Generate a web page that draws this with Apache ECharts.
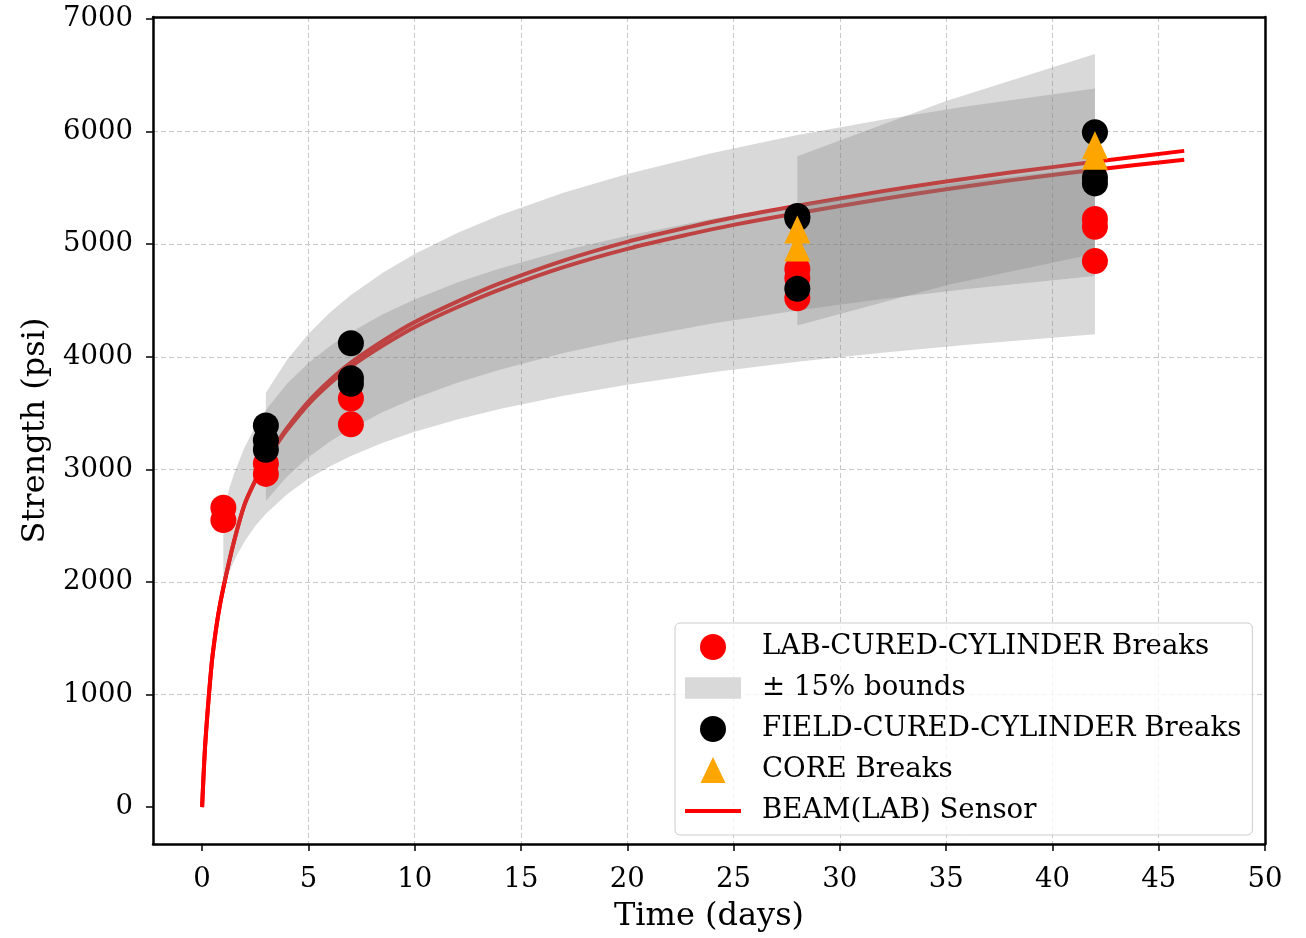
<!DOCTYPE html>
<html>
<head>
<meta charset="utf-8">
<script src="https://cdn.jsdelivr.net/npm/echarts@6/dist/echarts.min.js"></script>
<style>
html,body{margin:0;padding:0;background:#fff;}
#chart{width:1306px;height:938px;}
</style>
</head>
<body>
<div id="chart"></div>
<script>
// ---- tick labels ----
const xTicks = [0, 5, 10, 15, 20, 25, 30, 35, 40, 45, 50];
const yTicks = [0, 1000, 2000, 3000, 4000, 5000, 6000, 7000];

// ---- break data [day, psi] ----
const labBreaks = [[1, 2660], [1, 2550], [3, 3050], [3, 2960], [7, 3630], [7, 3400],
  [28, 4780], [28, 4700], [28, 4520], [42, 5225], [42, 5155], [42, 4850]];
const fieldBreaks = [[3, 3390], [3, 3260], [3, 3175], [7, 4120], [7, 3810], [7, 3760],
  [28, 5250], [28, 5230], [28, 4605], [42, 5995], [42, 5590], [42, 5540]];
const coreBreaks = [[28, 5130], [28, 4970], [42, 5880], [42, 5785]];

// ---- sensor curves ----
const sensorDays = [0, 0.06, 0.14, 0.25, 0.38, 0.5, 0.75, 1, 1.5, 2, 2.5, 3, 3.5, 4, 5, 6, 7, 8.5, 10, 12, 14, 17, 20, 23, 25, 28, 32, 35, 38, 42, 46.2];
const sensorA = [0, 250, 540, 830, 1130, 1360, 1700, 1950, 2360, 2690, 2902, 3080, 3232, 3369, 3602, 3790, 3948, 4140, 4308, 4490, 4652, 4855, 5021, 5156, 5237, 5341, 5470, 5557, 5636, 5732, 5829];
const sensorB = [0, 250, 540, 830, 1130, 1360, 1700, 1950, 2360, 2690, 2898, 3070, 3218, 3351, 3578, 3760, 3913, 4100, 4263, 4440, 4597, 4796, 4959, 5092, 5172, 5275, 5402, 5488, 5567, 5662, 5751];

// ---- +/-15% bounds ----
const labBandDays  = [1, 1.25, 1.5, 2, 2.5, 3, 4, 5, 6, 7, 8.5, 10, 12, 14, 17, 20, 24, 28, 32, 36, 42];
const labBandUpper = [2630, 2812, 2961, 3196, 3379, 3527, 3762, 3945, 4093, 4219, 4378, 4510, 4659, 4785, 4944, 5076, 5226, 5351, 5460, 5556, 5682];
const labBandLower = [1944, 2078, 2189, 2362, 2497, 2607, 2780, 2916, 3025, 3119, 3236, 3334, 3443, 3537, 3654, 3752, 3862, 3955, 4036, 4106, 4200];

const fieldBandDays  = [3, 4, 5, 6, 7, 8.5, 10, 12, 14, 17, 20, 24, 28, 32, 36, 42];
const fieldBandUpper = [3680, 3974, 4203, 4391, 4548, 4747, 4914, 5100, 5258, 5457, 5624, 5811, 5969, 6105, 6226, 6384];
const fieldBandLower = [2720, 2938, 3107, 3245, 3362, 3509, 3632, 3770, 3886, 4033, 4157, 4295, 4412, 4513, 4602, 4718];

const coreBandDays  = [28, 35, 42];
const coreBandUpper = [5782, 6271, 6690];
const coreBandLower = [4279, 4635, 4916];

// ---- styling ----
const FONT = 'DejaVu Serif';
const BAND_FILL = 'rgba(128,128,128,0.3)';
const X_MIN = -2.31, X_MAX = 50, Y_MIN = -327, Y_MAX = 7018;

function zip(xs, ys) { return xs.map((x, i) => [x, ys[i]]); }

function bandSeries(days, upper, lower) {
  return {
    type: 'custom',
    name: '± 15% bounds',
    coordinateSystem: 'cartesian2d',
    silent: true,
    z: 3,
    clip: true,
    itemStyle: { color: BAND_FILL },
    encode: { x: 0, y: [1, 2] },
    data: days.map((d, i) => [d, lower[i], upper[i]]),
    renderItem: function (params, api) {
      if (params.dataIndex !== 0) return null;
      const pts = [];
      for (let i = 0; i < days.length; i++) pts.push(api.coord([days[i], upper[i]]));
      for (let i = days.length - 1; i >= 0; i--) pts.push(api.coord([days[i], lower[i]]));
      return {
        type: 'polygon',
        shape: { points: pts },
        style: { fill: BAND_FILL, stroke: null }
      };
    }
  };
}

function sensorSeries(vals) {
  return {
    type: 'line', name: 'BEAM(LAB) Sensor', data: zip(sensorDays, vals),
    showSymbol: false, symbol: 'none', z: 2, clip: true,
    smooth: 0.3,
    lineStyle: { color: '#ff0000', width: 4 }, itemStyle: { color: '#ff0000' }
  };
}

const frameLine = { show: true, onZero: false, lineStyle: { color: '#000', width: 2.5 } };
const gridLine = { show: true, showMinLine: false, showMaxLine: false, lineStyle: { color: '#c8c8c8', width: 1, type: [5, 3] } };

const chart = echarts.init(document.getElementById('chart'), null, { renderer: 'canvas' });

const option = {
  animation: false,
  backgroundColor: '#ffffff',
  textStyle: { fontFamily: FONT, color: '#000' },
  grid: { left: 153, top: 17, width: 1112, height: 831, show: false },
  xAxis: [{
    type: 'value',
    min: X_MIN, max: X_MAX,
    splitNumber: 10,
    name: 'Time (days)',
    nameLocation: 'middle',
    nameGap: 57,
    nameTextStyle: { fontFamily: FONT, fontSize: 32, color: '#000' },
    axisLine: frameLine,
    axisTick: { show: true, inside: false, length: 7, customValues: xTicks, lineStyle: { color: '#000', width: 1.5 } },
    axisLabel: { show: true, margin: 22, customValues: xTicks, fontFamily: FONT, fontSize: 27.5, color: '#000',
      formatter: v => String(v) },
    splitLine: gridLine
  }, {
    type: 'value', position: 'top', min: X_MIN, max: X_MAX, z: 10,
    axisLine: frameLine, axisTick: { show: false }, axisLabel: { show: false }, splitLine: { show: false }
  }],
  yAxis: [{
    type: 'value',
    min: Y_MIN, max: Y_MAX,
    splitNumber: 7,
    name: 'Strength (psi)',
    nameLocation: 'middle',
    nameGap: 100,
    nameRotate: 90,
    nameTextStyle: { fontFamily: FONT, fontSize: 32, color: '#000' },
    axisLine: frameLine,
    axisTick: { show: true, inside: false, length: 7, customValues: yTicks, lineStyle: { color: '#000', width: 1.5 } },
    axisLabel: { show: true, margin: 20, customValues: yTicks, fontFamily: FONT, fontSize: 27.5, color: '#000',
      formatter: v => String(v) },
    splitLine: gridLine
  }, {
    type: 'value', position: 'right', min: Y_MIN, max: Y_MAX, z: 10,
    axisLine: frameLine, axisTick: { show: false }, axisLabel: { show: false }, splitLine: { show: false }
  }],
  legend: {
    orient: 'vertical',
    left: 675, top: 623,
    padding: [9, 11, 9, 10],
    itemGap: 11,
    itemWidth: 56, itemHeight: 26,
    symbolKeepAspect: true,
    backgroundColor: 'rgba(255,255,255,0.8)',
    borderColor: '#cccccc', borderWidth: 1, borderRadius: 5,
    textStyle: { fontFamily: FONT, fontSize: 27.6, color: '#000', lineHeight: 30, padding: [0, 0, 0, 16] },
    selectedMode: false,
    data: [
      { name: 'LAB-CURED-CYLINDER Breaks', icon: 'circle' },
      { name: '± 15% bounds', icon: 'path://M0,0 L50,0 L50,19 L0,19 Z', itemStyle: { color: '#d9d9d9' } },
      { name: 'FIELD-CURED-CYLINDER Breaks', icon: 'circle' },
      { name: 'CORE Breaks', icon: 'path://M12.5,0 L25,26 L0,26 Z' },
      { name: 'BEAM(LAB) Sensor', icon: 'path://M0,0 L56,0 L56,4 L0,4 Z' }
    ]
  },
  series: [
    sensorSeries(sensorA),
    sensorSeries(sensorB),
    bandSeries(labBandDays, labBandUpper, labBandLower),
    bandSeries(fieldBandDays, fieldBandUpper, fieldBandLower),
    bandSeries(coreBandDays, coreBandUpper, coreBandLower),
    {
      type: 'scatter', name: 'LAB-CURED-CYLINDER Breaks', data: labBreaks,
      symbol: 'circle', symbolSize: 26, z: 4, itemStyle: { color: '#ff0000', opacity: 1 }
    },
    {
      type: 'scatter', name: 'FIELD-CURED-CYLINDER Breaks', data: fieldBreaks,
      symbol: 'circle', symbolSize: 26, z: 5, itemStyle: { color: '#000000', opacity: 1 }
    },
    {
      type: 'scatter', name: 'CORE Breaks', data: coreBreaks,
      symbol: 'triangle', symbolSize: [26, 28], z: 6, itemStyle: { color: '#ffa500', opacity: 1 }
    }
  ]
};

chart.setOption(option);
</script>
</body>
</html>
